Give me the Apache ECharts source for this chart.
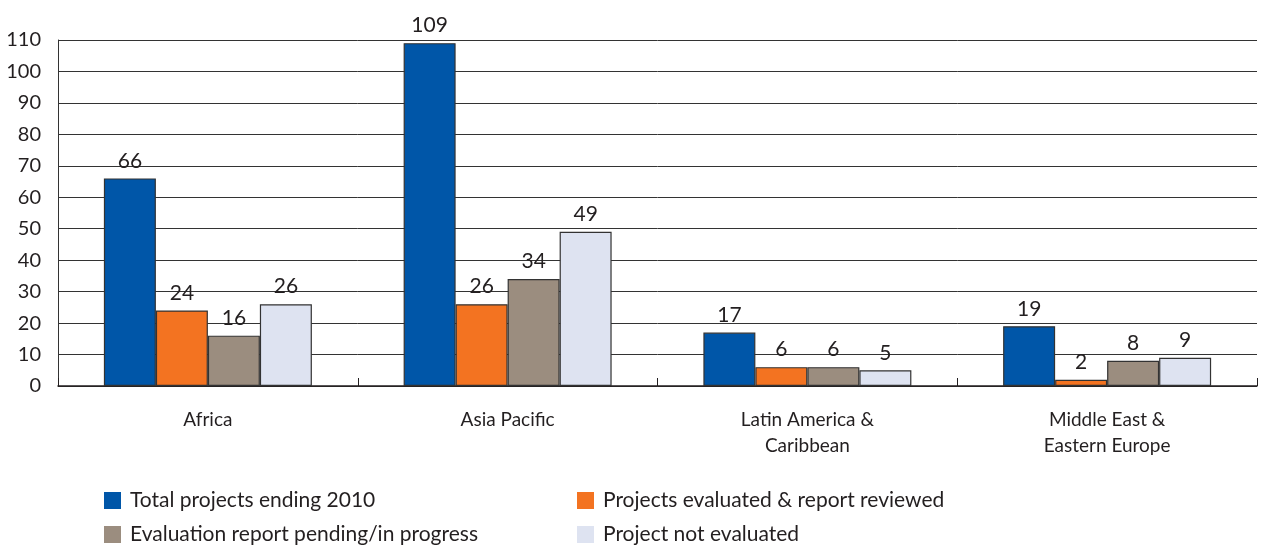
<!DOCTYPE html>
<html>
<head>
<meta charset="utf-8">
<script src="https://cdn.jsdelivr.net/npm/echarts@6/dist/echarts.min.js"></script>
<style>
  html, body { margin: 0; padding: 0; background: #fff; }
  #chart { width: 1263px; height: 546px; }
</style>
</head>
<body>
<div id="chart"></div>
<script>
// Regions shown along the x axis
const regions = ['Africa', 'Asia Pacific', 'Latin America &\nCaribbean', 'Middle East &\nEastern Europe'];

// Project counts per region
const totalProjects = [66, 109, 17, 19];
const evaluatedReviewed = [24, 26, 6, 2];
const pendingInProgress = [16, 34, 6, 8];
const notEvaluated = [26, 49, 5, 9];

const seriesNames = [
  'Total projects ending 2010',
  'Projects evaluated & report reviewed',
  'Evaluation report pending/in progress',
  'Project not evaluated'
];
const seriesColors = ['#0056a8', '#f37321', '#9b8d7f', '#dee3f1'];
const seriesValues = [totalProjects, evaluatedReviewed, pendingInProgress, notEvaluated];

const FONT = 'Lato, "Open Sans", sans-serif';
const TEXT = '#231f20';

// Legend in two columns: one legend component per entry
const legendSlots = [
  { left: 104, top: 490 },
  { left: 577, top: 490 },
  { left: 104, top: 524 },
  { left: 577, top: 524 }
];

const chart = echarts.init(document.getElementById('chart'), null, { renderer: 'canvas' });

chart.setOption({
  animation: false,
  textStyle: { fontFamily: FONT, color: TEXT },
  grid: { left: 58, right: 6, top: 40, bottom: 160, containLabel: false },
  legend: seriesNames.map((name, i) => ({
    data: [name],
    left: legendSlots[i].left,
    top: legendSlots[i].top,
    padding: 0,
    itemWidth: 17, itemHeight: 17,
    icon: 'rect',
    itemStyle: { borderWidth: 0 },
    textStyle: { fontFamily: FONT, fontSize: 21, color: TEXT, padding: [0, 0, 0, 4] }
  })),
  xAxis: {
    type: 'category',
    data: regions,
    axisLine: { lineStyle: { color: '#231f20', width: 1.5 } },
    axisTick: { show: true, inside: true, length: 8, lineStyle: { color: '#231f20' } },
    axisLabel: { fontFamily: FONT, fontSize: 19, color: TEXT, margin: 21, lineHeight: 26 }
  },
  yAxis: {
    type: 'value',
    min: 0, max: 110, interval: 10,
    axisLine: { show: true, lineStyle: { color: '#333', width: 1 } },
    axisTick: { show: false },
    axisLabel: { fontFamily: FONT, fontSize: 20, color: TEXT, margin: 17 },
    splitLine: { lineStyle: { color: '#333', width: 1 } }
  },
  series: seriesValues.map((vals, i) => ({
    name: seriesNames[i],
    type: 'bar',
    data: vals,
    barWidth: 52,
    barGap: '0%',
    itemStyle: { color: seriesColors[i], borderColor: '#333', borderWidth: 1.2 },
    label: {
      show: true,
      position: 'top',
      distance: 7,
      fontFamily: FONT,
      fontSize: 21,
      color: TEXT
    }
  }))
});
</script>
</body>
</html>
